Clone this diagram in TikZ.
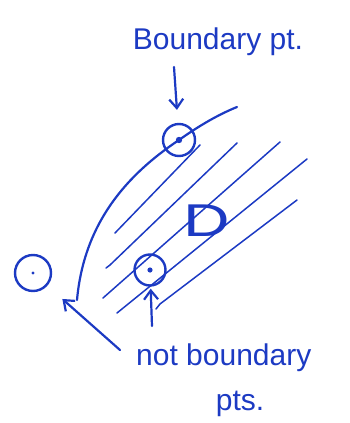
\documentclass[tikz,border=0pt]{standalone}
\usepackage{fontspec}
\setmainfont{Liberation Sans}
\usetikzlibrary{arrows.meta}
\definecolor{ink}{RGB}{28,58,195}
\tikzset{
  pen/.style={draw=ink, line width=2.2pt, line cap=round, line join=round},
  hatch/.style={draw=ink, line width=1.5pt, line cap=round, line join=round},
  pt/.style={circle, draw=ink, line width=2.4pt, inner sep=0pt},
  lbl/.style={text=ink, font=\fontsize{30}{34}\selectfont, inner sep=0pt},
  arr/.style={pen, -{Straight Barb[length=9pt, width=14pt, line width=2.2pt]}},
}
\begin{document}
\begin{tikzpicture}[x=1pt, y=-1pt]
\useasboundingbox (0,0) rectangle (349,423);
% labels
\node[lbl] (top) at (218,42) {Boundary pt.};
\node[lbl, anchor=west] (nb) at (136,358) {not boundary};
\node[lbl] (pts) at (240,404) {pts.};
\node[text=ink, font=\fontsize{46}{50}\selectfont, inner sep=0pt, xscale=1.4] (D) at (207,221) {D};
% points
\node[pt, minimum size=32pt] (bp) at (179,140) {};
\node[pt, minimum size=31pt] (ip) at (150,270) {};
\node[pt, minimum size=36pt] (op) at (33,273) {};
\fill[ink] (bp.center) circle (3.2pt);
\fill[ink] (ip.center) circle (2.6pt);
\fill[ink] (op.center) circle (1.6pt);
% outer boundary curve
\draw[pen] (237,107) .. controls (215,116) and (196,128) .. (179,140)
  .. controls (128,174) and (84,222) .. (77,300);
% hatch lines
\draw[hatch] (200,145) -- (115,233);
\draw[hatch] (237,143) -- (110,265) -- (106,268);
\draw[hatch] (280,142) -- (103,298);
\draw[hatch] (307,159) -- (117,313);
\draw[hatch] (297,200) -- (160,304) -- (156,309);
% arrows
\coordinate (a1) at (174,67);
\draw[arr, shorten >=13pt] (a1) -- (bp);
\coordinate (a2) at (152,326);
\draw[arr, shorten >=2pt] (a2) -- (ip);
\coordinate (a3) at (120,350);
\draw[arr, shorten >=20pt] (a3) -- (op);
\end{tikzpicture}
\end{document}
